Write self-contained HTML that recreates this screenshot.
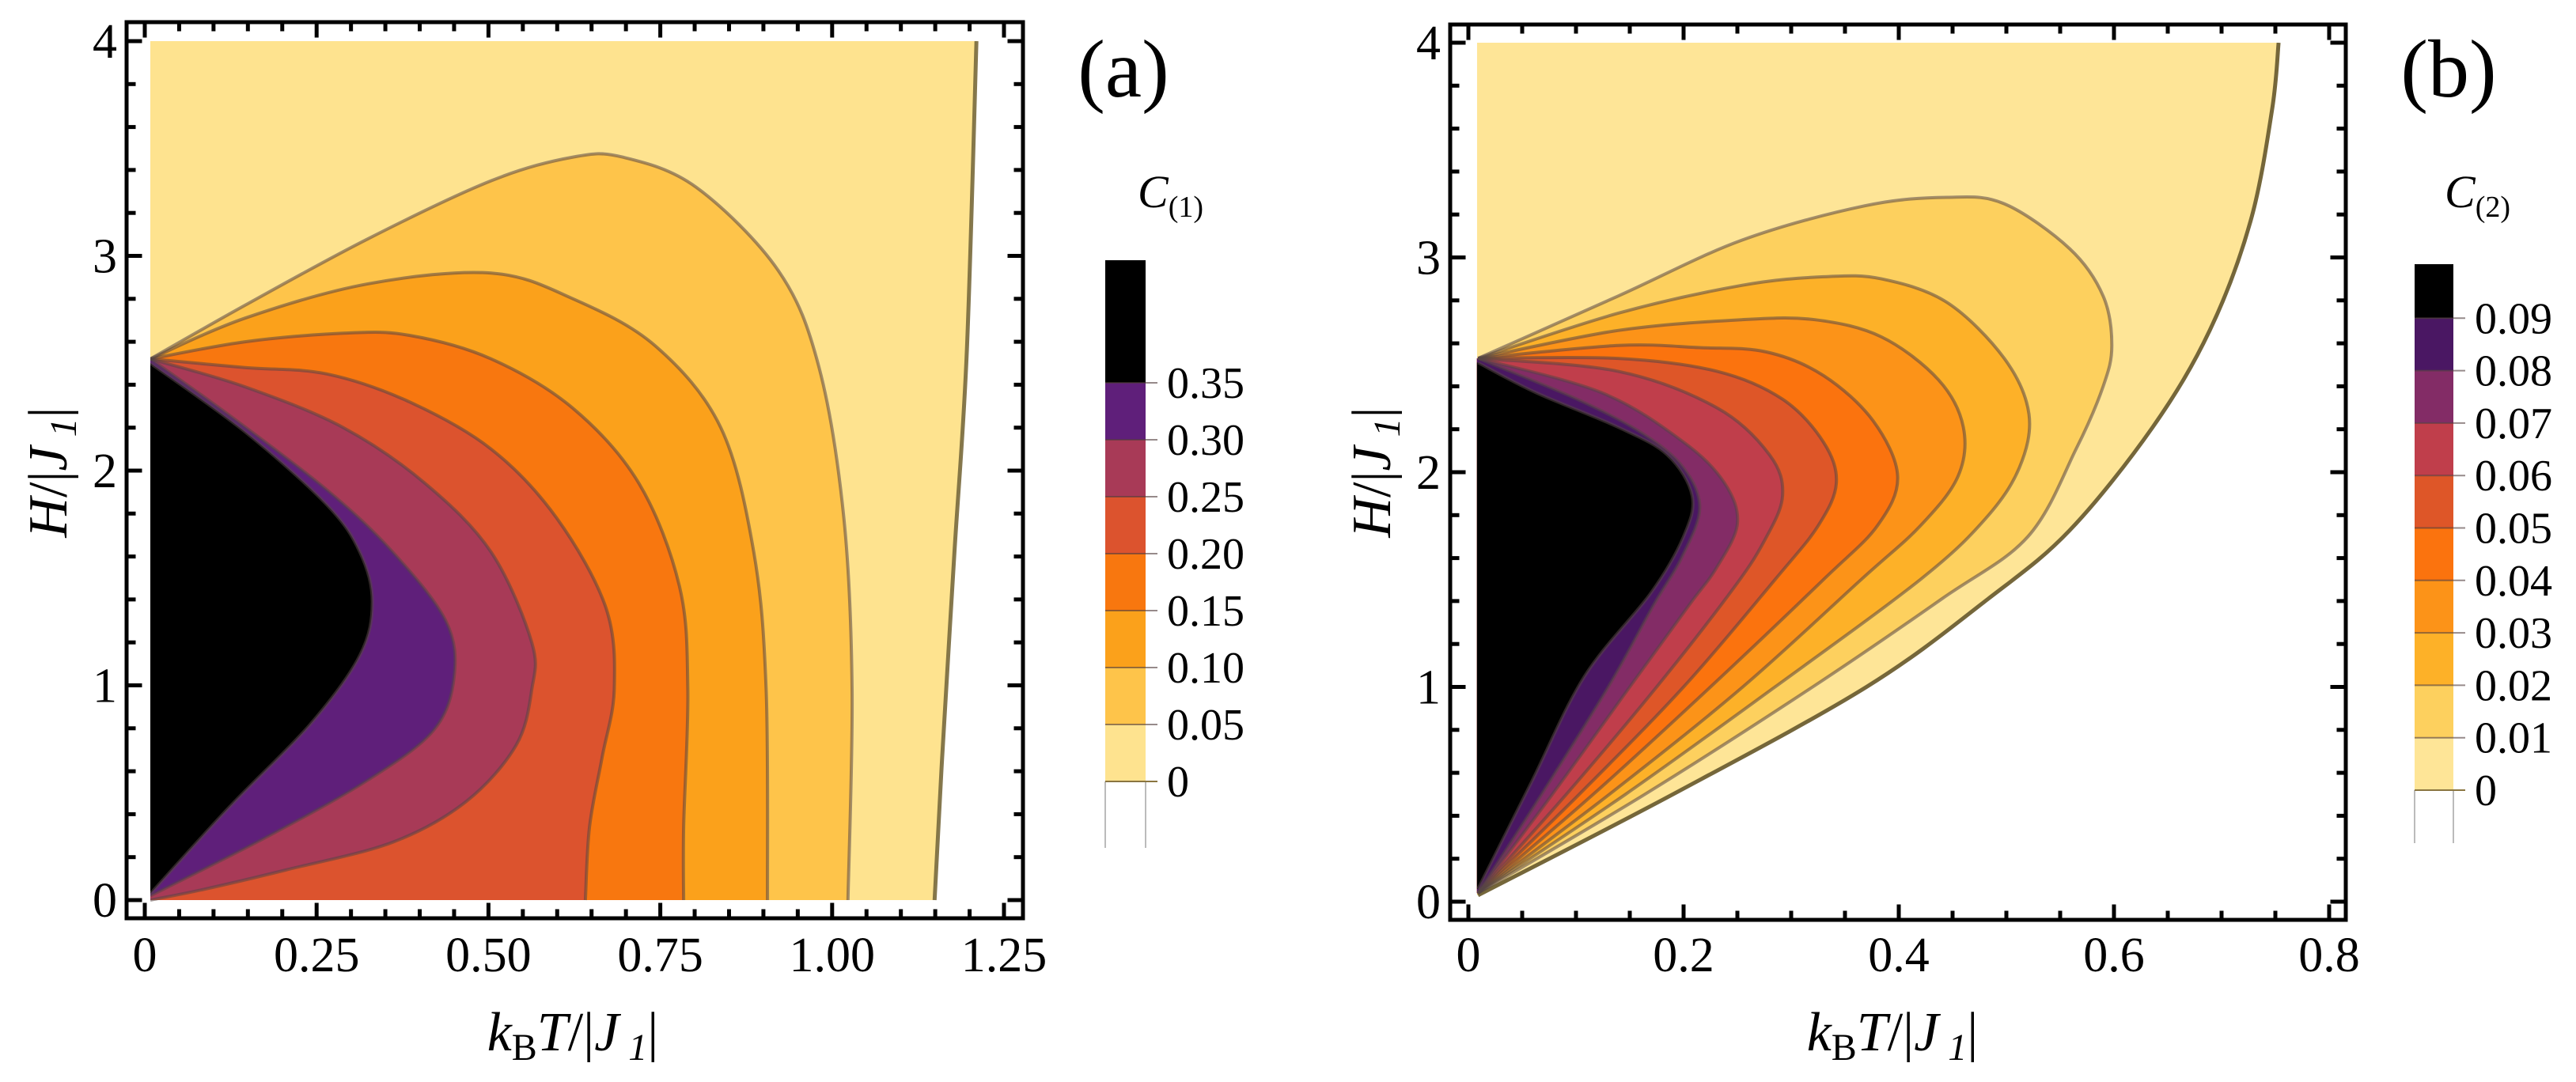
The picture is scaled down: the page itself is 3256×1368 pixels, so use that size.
<!DOCTYPE html>
<html><head><meta charset="utf-8"><title>Contour plots</title>
<style>html,body{margin:0;padding:0;background:#fff}svg{display:block}text{font-family:"Liberation Serif",serif;fill:#000}</style>
</head><body>
<svg id="fig" xmlns="http://www.w3.org/2000/svg" width="3256" height="1368" viewBox="0 0 3256 1368">
<g id="pa"></g>
<g id="pb"></g>
</svg>
<script>
// ---------- Panel (a) data: contour lines of C(1), T and H values ----------
const levelsA = [0.05, 0.10, 0.15, 0.20, 0.25, 0.30, 0.35];
const colorsA = ["#fee38f", "#fec44a", "#fba11b", "#f8770f", "#dc532e", "#a83a57", "#5f1f7a", "#000000"];
const A00_T = [1.149, 1.16, 1.178, 1.196, 1.21];
const A00_H = [0, 0.66, 1.62, 2.56, 4];
const A05_T = [0.008, 0.146, 0.325, 0.504, 0.623, 0.695, 0.802, 0.922, 0.981, 1.017, 1.029, 1.023];
const A05_H = [2.52, 2.77, 3.08, 3.35, 3.46, 3.46, 3.32, 2.93, 2.48, 1.78, 0.98, 0];
const A10_T = [0.008, 0.146, 0.325, 0.504, 0.623, 0.743, 0.838, 0.886, 0.904, 0.906];
const A10_H = [2.52, 2.71, 2.87, 2.92, 2.80, 2.58, 2.20, 1.62, 0.98, 0];
const A15_T = [0.008, 0.146, 0.289, 0.385, 0.504, 0.623, 0.719, 0.778, 0.790, 0.784, 0.784];
const A15_H = [2.52, 2.60, 2.64, 2.63, 2.52, 2.29, 1.94, 1.46, 0.98, 0.34, 0];
const A20_T = [0.008, 0.146, 0.265, 0.385, 0.504, 0.599, 0.671, 0.683, 0.665, 0.647, 0.641];
const A20_H = [2.52, 2.48, 2.45, 2.32, 2.10, 1.78, 1.36, 0.98, 0.66, 0.34, 0];
const A25_T = [0.008, 0.146, 0.289, 0.408, 0.504, 0.563, 0.563, 0.540, 0.468, 0.361, 0.205, 0.086, 0.008];
const A25_H = [2.52, 2.39, 2.20, 1.94, 1.62, 1.20, 0.98, 0.72, 0.46, 0.27, 0.14, 0.05, 0];
const A30_T = [0.008, 0.122, 0.265, 0.361, 0.438, 0.450, 0.420, 0.325, 0.181, 0.008];
const A30_H = [2.52, 2.26, 1.91, 1.62, 1.30, 1.04, 0.79, 0.56, 0.30, 0.02];
const A35_T = [0.008, 0.146, 0.265, 0.313, 0.331, 0.313, 0.241, 0.122, 0.008];
const A35_H = [2.5, 2.18, 1.84, 1.62, 1.39, 1.14, 0.82, 0.43, 0.03];
const ticksAX = [0, 0.25, 0.5, 0.75, 1.0, 1.25];
const tickLabelsAX = ["0", "0.25", "0.50", "0.75", "1.00", "1.25"];
const ticksY = [0, 1, 2, 3, 4];
const tickLabelsY = ["0", "1", "2", "3", "4"];
const cbLabelsA = ["0", "0.05", "0.10", "0.15", "0.20", "0.25", "0.30", "0.35"];

// ---------- Panel (b) data: contour lines of C(2) ----------
const levelsB = [0.01, 0.02, 0.03, 0.04, 0.05, 0.06, 0.07, 0.08, 0.09];
const colorsB = ["#fee597", "#fdd05e", "#fdb128", "#fc9318", "#fb730e", "#de5628", "#c03e4b", "#832c66", "#4a1763", "#000000"];
const B00_T = [0.009, 0.19, 0.37, 0.483, 0.559, 0.636, 0.689, 0.727, 0.747, 0.753];
const B00_H = [0.03, 0.50, 1.00, 1.41, 1.73, 2.21, 2.66, 3.17, 3.69, 4.0];
const B01_T = [0.009, 0.139, 0.254, 0.368, 0.445, 0.498, 0.559, 0.590, 0.598, 0.590, 0.565, 0.520, 0.440, 0.320, 0.164, 0.009];
const B01_H = [2.53, 2.82, 3.08, 3.24, 3.28, 3.25, 3.04, 2.82, 2.59, 2.40, 2.11, 1.70, 1.41, 1.00, 0.50, 0.04];
const B02_T = [0.009, 0.139, 0.254, 0.330, 0.384, 0.445, 0.498, 0.521, 0.512, 0.480, 0.420, 0.285, 0.146, 0.009];
const B02_H = [2.53, 2.74, 2.87, 2.91, 2.90, 2.79, 2.53, 2.27, 2.02, 1.78, 1.50, 1.00, 0.50, 0.04];
const B03_T = [0.009, 0.139, 0.254, 0.322, 0.384, 0.437, 0.460, 0.455, 0.420, 0.365, 0.255, 0.131, 0.009];
const B03_H = [2.53, 2.66, 2.71, 2.71, 2.63, 2.43, 2.21, 1.98, 1.75, 1.50, 1.00, 0.50, 0.04];
const B04_T = [0.009, 0.139, 0.215, 0.277, 0.330, 0.376, 0.399, 0.380, 0.330, 0.225, 0.116, 0.009];
const B04_H = [2.53, 2.59, 2.58, 2.56, 2.45, 2.24, 1.98, 1.75, 1.50, 1.00, 0.50, 0.04];
const B05_T = [0.009, 0.139, 0.231, 0.292, 0.330, 0.342, 0.325, 0.285, 0.200, 0.103, 0.009];
const B05_H = [2.53, 2.53, 2.47, 2.34, 2.14, 1.95, 1.75, 1.50, 1.00, 0.50, 0.04];
const B06_T = [0.009, 0.139, 0.231, 0.280, 0.292, 0.275, 0.245, 0.175, 0.091, 0.009];
const B06_H = [2.53, 2.47, 2.30, 2.08, 1.89, 1.68, 1.45, 1.00, 0.50, 0.04];
const B07_T = [0.009, 0.124, 0.200, 0.238, 0.250, 0.230, 0.205, 0.150, 0.078, 0.009];
const B07_H = [2.53, 2.37, 2.14, 1.95, 1.76, 1.55, 1.38, 1.00, 0.50, 0.04];
const B08_T = [0.009, 0.101, 0.162, 0.200, 0.215, 0.198, 0.172, 0.130, 0.068, 0.009];
const B08_H = [2.53, 2.34, 2.18, 2.02, 1.83, 1.60, 1.38, 1.00, 0.50, 0.04];
const B09_T = [0.009, 0.063, 0.139, 0.185, 0.208, 0.200, 0.170, 0.108, 0.058, 0.009];
const B09_H = [2.51, 2.37, 2.21, 2.08, 1.89, 1.70, 1.44, 1.05, 0.55, 0.06];
const ticksBX = [0, 0.2, 0.4, 0.6, 0.8];
const tickLabelsBX = ["0", "0.2", "0.4", "0.6", "0.8"];
const cbLabelsB = ["0", "0.01", "0.02", "0.03", "0.04", "0.05", "0.06", "0.07", "0.08", "0.09"];

const NS = "http://www.w3.org/2000/svg";
function mk(parent, tag, attrs, text) {
  const e = document.createElementNS(NS, tag);
  for (const k in attrs) e.setAttribute(k, attrs[k]);
  if (text !== undefined) e.textContent = text;
  parent.appendChild(e);
  return e;
}
function smooth(pts) {
  let d = "M" + pts[0][0].toFixed(1) + "," + pts[0][1].toFixed(1);
  for (let i = 0; i < pts.length - 1; i++) {
    const p0 = pts[Math.max(0, i - 1)], p1 = pts[i], p2 = pts[i + 1], p3 = pts[Math.min(pts.length - 1, i + 2)];
    const c1 = [p1[0] + (p2[0] - p0[0]) / 6, p1[1] + (p2[1] - p0[1]) / 6];
    const c2 = [p2[0] - (p3[0] - p1[0]) / 6, p2[1] - (p3[1] - p1[1]) / 6];
    d += "C" + c1[0].toFixed(1) + "," + c1[1].toFixed(1) + " " + c2[0].toFixed(1) + "," + c2[1].toFixed(1) + " " + p2[0].toFixed(1) + "," + p2[1].toFixed(1);
  }
  return d;
}

function panel(g, cfg) {
  const X = t => cfg.x0 + cfg.sx * t;
  const Y = h => cfg.y0 - cfg.sy * h;
  const pts = (T, H) => T.map((t, i) => [X(t), Y(H[i])]);
  const clipId = cfg.id + "-clip";
  const defs = mk(g, "defs", {});
  const cp = mk(defs, "clipPath", { id: clipId });
  mk(cp, "rect", { x: X(cfg.t0), y: Y(4), width: X(cfg.tmax) - X(cfg.t0), height: Y(0) - Y(4) + 2 });
  const plot = mk(g, "g", { "clip-path": "url(#" + clipId + ")" });
  
  
  const bp = pts(cfg.bT, cfg.bH);
  let bd = "M" + X(cfg.t0) + "," + Y(cfg.bH[0]) + " L" + bp[0][0] + "," + bp[0][1] + smooth(bp).replace(/^M[^C]*/, "") + " L" + X(cfg.t0) + "," + Y(4) + " Z";
  const bg = mk(plot, "path", { d: bd, fill: cfg.colors[0] });
  
  
  cfg.contours.forEach((c, i) => {
    const p = pts(c[0], c[1]);
    const lastH = c[1][c[1].length - 1];
    let d = smooth(p) + " L" + X(cfg.t0 - 0.02) + "," + Y(lastH) + " L" + X(cfg.t0 - 0.02) + "," + Y(c[1][0]) + " Z";
    const f = mk(plot, "path", { d: d, fill: cfg.colors[i + 1] });
    
    
  });
  const l0 = mk(plot, "path", { d: smooth(bp), fill: "none", stroke: cfg.zeroStroke, "stroke-width": 5 });
  
  
  cfg.contours.forEach((c, i) => {
    const l = mk(plot, "path", { d: smooth(pts(c[0], c[1])), fill: "none", stroke: "rgba(85,70,70,0.55)", "stroke-width": 4 });
    
    
  });
  const fr = mk(g, "rect", { x: cfg.fx, y: cfg.fy, width: cfg.fw, height: cfg.fh, fill: "none", stroke: "#000", "stroke-width": 5 });
  
  
  const ix = cfg.fx + 2.5, iy = cfg.fy + 2.5, ex = cfg.fx + cfg.fw - 2.5, ey = cfg.fy + cfg.fh - 2.5;
  for (let k = 0; ; k++) {
    const t = k * cfg.xminor;
    if (X(t) > ex) break;
    const major = Math.abs(t / cfg.xmajor - Math.round(t / cfg.xmajor)) < 1e-6;
    const L = major ? 17 : 9;
    mk(g, "line", { x1: X(t), y1: ey, x2: X(t), y2: ey - L, stroke: "#000", "stroke-width": 5 });
    mk(g, "line", { x1: X(t), y1: iy, x2: X(t), y2: iy + L, stroke: "#000", "stroke-width": 5 });
  }
  for (let k = 0; k <= 20; k++) {
    const h = k * 0.2;
    const major = k % 5 === 0;
    const L = major ? 17 : 9;
    mk(g, "line", { x1: ix, y1: Y(h), x2: ix + L, y2: Y(h), stroke: "#000", "stroke-width": 5 });
    mk(g, "line", { x1: ex, y1: Y(h), x2: ex - L, y2: Y(h), stroke: "#000", "stroke-width": 5 });
  }
  cfg.xticks.forEach((t, i) => {
    const tx = mk(g, "text", { x: X(t), y: 1228, "font-size": 62, "text-anchor": "middle" }, cfg.xlabels[i]);
    
    
  });
  ticksY.forEach((h, i) => {
    const tx = mk(g, "text", { x: cfg.fx - 12, y: Y(h) + 21, "font-size": 62, "text-anchor": "end" }, tickLabelsY[i]);
    
    
  });
  const xt = mk(g, "text", { x: cfg.xtc, y: 1328, "font-size": 70, "text-anchor": "middle" });
  
  
  xt.innerHTML = '<tspan font-style="italic">k</tspan><tspan font-size="48" dy="12">B</tspan><tspan font-style="italic" dy="-12">T</tspan><tspan>/|</tspan><tspan font-style="italic">J</tspan><tspan font-size="48" font-style="italic" dy="12"> 1</tspan><tspan dy="-12">|</tspan>';
  const yt = mk(g, "text", { x: 0, y: 0, "font-size": 70, "text-anchor": "middle", transform: "translate(" + cfg.ytx + ",597) rotate(-90)" });
  
  
  yt.innerHTML = '<tspan font-style="italic">H</tspan><tspan>/|</tspan><tspan font-style="italic">J</tspan><tspan font-size="48" font-style="italic" dy="12"> 1</tspan><tspan dy="-12">|</tspan>';
  const pl = mk(g, "text", { x: cfg.plx, y: 122, "font-size": 104, "text-anchor": "middle" }, cfg.plabel);
  
  
  const cb = mk(g, "g", {});
  
  
  const CY = v => cfg.cb0 - v / cfg.cbStep * cfg.cbPx;
  const nb = cfg.cbLabels.length;
  mk(cb, "line", { x1: cfg.cbx, y1: cfg.cb0, x2: cfg.cbx, y2: cfg.cbBot, stroke: "#bbb", "stroke-width": 2 });
  mk(cb, "line", { x1: cfg.cbx + cfg.cbw, y1: cfg.cb0, x2: cfg.cbx + cfg.cbw, y2: cfg.cbBot, stroke: "#bbb", "stroke-width": 2 });
  for (let i = 0; i < nb; i++) {
    const top = i === nb - 1 ? cfg.cbTop : CY((i + 1) * cfg.cbStep);
    const r = mk(cb, "rect", { x: cfg.cbx, y: top, width: cfg.cbw, height: CY(i * cfg.cbStep) - top, fill: cfg.colors[i] });
    
    
  }
  cfg.cbLabels.forEach((lab, i) => {
    const y = CY(i * cfg.cbStep);
    mk(cb, "line", { x1: cfg.cbx, y1: y, x2: cfg.cbx + cfg.cbw + 15, y2: y, stroke: i === 0 ? "#8a7540" : "rgba(80,60,60,0.6)", "stroke-width": 2 });
    const t = mk(cb, "text", { x: cfg.cbx + cfg.cbw + 27, y: y + 19, "font-size": 56 }, lab);
    
    
  });
  const ct = mk(cb, "text", { x: cfg.ctx, y: 262, "font-size": 58 });
  
  
  ct.innerHTML = '<tspan font-style="italic">C</tspan><tspan font-size="38" dy="12">' + cfg.ctSub + '</tspan>';
}

panel(document.getElementById("pa"), {
  id: "a", x0: 183, sx: 868.8, y0: 1138, sy: 271.5, t0: 0.008, tmax: 1.25,
  bT: A00_T, bH: A00_H, colors: colorsA, levels: levelsA,
  contours: [[A05_T, A05_H], [A10_T, A10_H], [A15_T, A15_H], [A20_T, A20_H], [A25_T, A25_H], [A30_T, A30_H], [A35_T, A35_H]],
  zeroStroke: "rgba(120,105,60,0.9)",
  fx: 160, fy: 28, fw: 1133, fh: 1133, xminor: 0.05, xmajor: 0.25,
  xticks: ticksAX, xlabels: tickLabelsAX, xtc: 724, ytx: 84, plx: 1420, plabel: "(a)",
  cbx: 1397, cbw: 51, cb0: 988, cbPx: 72, cbStep: 0.05, cbTop: 329, cbBot: 1072, cbLabels: cbLabelsA,
  ctx: 1438, ctSub: "(1)"
});
panel(document.getElementById("pb"), {
  id: "b", x0: 1856, sx: 1360, y0: 1140, sy: 271.5, t0: 0.008, tmax: 0.8,
  bT: B00_T, bH: B00_H, colors: colorsB, levels: levelsB,
  contours: [[B01_T, B01_H], [B02_T, B02_H], [B03_T, B03_H], [B04_T, B04_H], [B05_T, B05_H], [B06_T, B06_H], [B07_T, B07_H], [B08_T, B08_H], [B09_T, B09_H]],
  zeroStroke: "rgba(110,95,50,0.95)",
  fx: 1833, fy: 31, fw: 1132, fh: 1132, xminor: 0.05, xmajor: 0.2,
  xticks: ticksBX, xlabels: tickLabelsBX, xtc: 2392, ytx: 1757, plx: 3095, plabel: "(b)",
  cbx: 3052, cbw: 49, cb0: 999, cbPx: 66.3, cbStep: 0.01, cbTop: 334, cbBot: 1066, cbLabels: cbLabelsB,
  ctx: 3090, ctSub: "(2)"
});
</script>
</body></html>
